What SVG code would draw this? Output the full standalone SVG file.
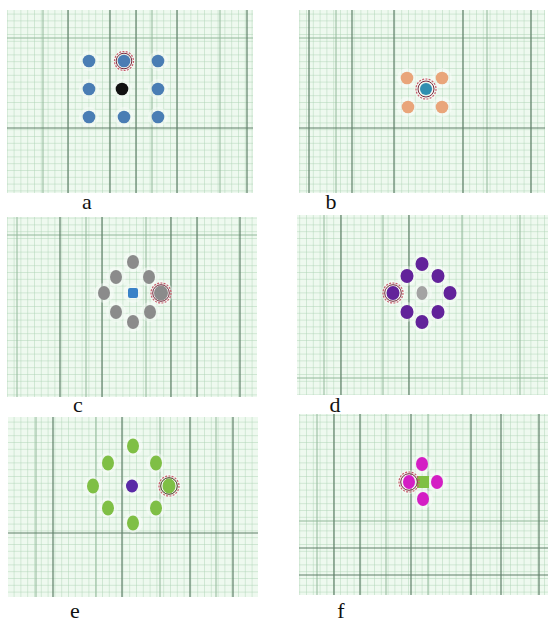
<svg xmlns="http://www.w3.org/2000/svg" width="548" height="623" viewBox="0 0 548 623">
<style>
.bg{fill:#eef9ef}
.dk{stroke:#5f7f68;stroke-width:1.2}
.md{stroke:#92b89a;stroke-width:1}
.lbl{font-family:"Liberation Serif","Times New Roman",serif;font-size:22px;fill:#111;text-anchor:middle}
.halo{fill:#ffffff;opacity:0.4}
.ring1{fill:none;stroke:#c85a6a;stroke-width:1.2;stroke-dasharray:2 1.3}
.ring2{fill:none;stroke:#7a2a40;stroke-width:1}
.blue{fill:#4a7db4}
.orange{fill:#e9a57a}
.gray{fill:#8b8b8b}
.purple{fill:#62229a}
.green{fill:#7fbf45}
.mag{fill:#d41ec4}
</style>
<defs>
<pattern id="g" width="6.8" height="6.8" patternUnits="userSpaceOnUse">
<rect width="6.8" height="6.8" fill="#eef9ef"/>
<path d="M0 0H6.8M0 0V6.8" stroke="#abd2b3" stroke-width="0.9" fill="none"/>
</pattern>
</defs>
<rect width="548" height="623" fill="#ffffff"/>

<g id="panel-a">
<rect x="7" y="10" width="246" height="183" fill="url(#g)"/>
<g class="md"><line x1="43" y1="10" x2="43" y2="193"/><line x1="152" y1="10" x2="152" y2="193"/><line x1="220" y1="10" x2="220" y2="193"/><line x1="7" y1="38" x2="253" y2="38"/></g>
<g class="dk"><line x1="68" y1="10" x2="68" y2="193"/><line x1="110" y1="10" x2="110" y2="193"/><line x1="136" y1="10" x2="136" y2="193"/><line x1="177" y1="10" x2="177" y2="193"/><line x1="247" y1="10" x2="247" y2="193"/><line x1="7" y1="128" x2="253" y2="128"/></g>
<g class="halo"><circle cx="89" cy="61" r="10"/><circle cx="124" cy="61" r="11"/><circle cx="158" cy="61" r="10"/><circle cx="89" cy="89" r="10"/><circle cx="122" cy="89" r="10"/><circle cx="158" cy="89" r="10"/><circle cx="89" cy="117" r="10"/><circle cx="124" cy="117" r="10"/><circle cx="158" cy="117" r="10"/></g>
<circle class="blue" cx="89" cy="61" r="6.3"/><circle class="blue" cx="124" cy="61" r="6.3"/><circle class="blue" cx="158" cy="61" r="6.3"/>
<circle class="blue" cx="89" cy="89" r="6.3"/><circle fill="#111" cx="122" cy="89" r="6.3"/><circle class="blue" cx="158" cy="89" r="6.3"/>
<circle class="blue" cx="89" cy="117" r="6.3"/><circle class="blue" cx="124" cy="117" r="6.3"/><circle class="blue" cx="158" cy="117" r="6.3"/>
<circle class="ring1" cx="124" cy="61" r="9.5"/><circle class="ring2" cx="124" cy="61" r="7.8"/>
<text class="lbl" x="87" y="209">a</text>
</g>

<g id="panel-b">
<rect x="299" y="10" width="246" height="183" fill="url(#g)"/>
<g class="md"><line x1="336" y1="10" x2="336" y2="193"/><line x1="487" y1="10" x2="487" y2="193"/><line x1="299" y1="38" x2="545" y2="38"/></g>
<g class="dk"><line x1="309" y1="10" x2="309" y2="193"/><line x1="352" y1="10" x2="352" y2="193"/><line x1="394" y1="10" x2="394" y2="193"/><line x1="463" y1="10" x2="463" y2="193"/><line x1="531" y1="10" x2="531" y2="193"/><line x1="299" y1="128" x2="545" y2="128"/></g>
<g class="halo"><circle cx="407" cy="78" r="10"/><circle cx="442" cy="78" r="10"/><circle cx="407" cy="107" r="10"/><circle cx="442" cy="107" r="10"/><circle cx="426" cy="89" r="12"/></g>
<circle class="orange" cx="407" cy="78" r="6.3"/><circle class="orange" cx="442" cy="78" r="6.3"/><circle class="orange" cx="408" cy="107" r="6.3"/><circle class="orange" cx="442" cy="107" r="6.3"/>
<circle fill="#2f8fb0" cx="426" cy="89" r="6"/>
<circle class="ring1" cx="426" cy="89" r="10"/><circle class="ring2" cx="426" cy="89" r="8"/>
<text class="lbl" x="331" y="209">b</text>
</g>

<g id="panel-c">
<rect x="7" y="217" width="250" height="180" fill="url(#g)"/>
<g class="md"><line x1="17" y1="217" x2="17" y2="397"/><line x1="86" y1="217" x2="86" y2="397"/><line x1="146" y1="217" x2="146" y2="397"/><line x1="7" y1="235" x2="257" y2="235"/></g>
<g class="dk"><line x1="60" y1="217" x2="60" y2="397"/><line x1="102" y1="217" x2="102" y2="397"/><line x1="171" y1="217" x2="171" y2="397"/><line x1="197" y1="217" x2="197" y2="397"/><line x1="240" y1="217" x2="240" y2="397"/></g>
<g class="halo"><circle cx="133" cy="262" r="10"/><circle cx="116" cy="277" r="10"/><circle cx="149" cy="277" r="10"/><circle cx="104" cy="293" r="10"/><circle cx="133" cy="293" r="10"/><circle cx="161" cy="293" r="12"/><circle cx="116" cy="312" r="10"/><circle cx="150" cy="312" r="10"/><circle cx="133" cy="322" r="10"/></g>
<ellipse class="gray" cx="133" cy="262" rx="6" ry="7"/><ellipse class="gray" cx="116" cy="277" rx="6" ry="7"/><ellipse class="gray" cx="149" cy="277" rx="6" ry="7"/>
<ellipse class="gray" cx="104" cy="293" rx="6" ry="7"/><ellipse class="gray" cx="161" cy="293" rx="7" ry="7.5"/>
<ellipse class="gray" cx="116" cy="312" rx="6" ry="7"/><ellipse class="gray" cx="150" cy="312" rx="6" ry="7"/><ellipse class="gray" cx="133" cy="322" rx="6" ry="7"/>
<rect fill="#3a82c8" x="128" y="288" width="10" height="10" rx="2"/>
<circle class="ring1" cx="161" cy="293" r="10"/><circle class="ring2" cx="161" cy="293" r="8.3"/>
<text class="lbl" x="78" y="412">c</text>
</g>

<g id="panel-d">
<rect x="297" y="215" width="251" height="180" fill="url(#g)"/>
<g class="md"><line x1="324" y1="215" x2="324" y2="395"/><line x1="383" y1="215" x2="383" y2="395"/><line x1="462" y1="215" x2="462" y2="395"/><line x1="520" y1="215" x2="520" y2="395"/><line x1="297" y1="378" x2="548" y2="378"/></g>
<g class="dk"><line x1="341" y1="215" x2="341" y2="395"/><line x1="409" y1="215" x2="409" y2="395"/></g>
<g class="halo"><circle cx="422" cy="264" r="10"/><circle cx="407" cy="276" r="10"/><circle cx="438" cy="276" r="10"/><circle cx="393" cy="293" r="12"/><circle cx="450" cy="293" r="10"/><circle cx="422" cy="293" r="10"/><circle cx="407" cy="312" r="10"/><circle cx="438" cy="312" r="10"/><circle cx="422" cy="322" r="10"/></g>
<ellipse class="purple" cx="422" cy="264" rx="6.5" ry="7"/><ellipse class="purple" cx="407" cy="276" rx="6.5" ry="7"/><ellipse class="purple" cx="438" cy="276" rx="6.5" ry="7"/>
<ellipse class="purple" cx="393" cy="293" rx="6.5" ry="7"/><ellipse class="purple" cx="450" cy="293" rx="6.5" ry="7"/>
<ellipse class="purple" cx="407" cy="312" rx="6.5" ry="7"/><ellipse class="purple" cx="438" cy="312" rx="6.5" ry="7"/><ellipse class="purple" cx="422" cy="322" rx="6.5" ry="7"/>
<ellipse fill="#a3a3a3" cx="422" cy="293" rx="5.5" ry="7"/>
<circle class="ring1" cx="393" cy="293" r="10"/><circle class="ring2" cx="393" cy="293" r="8.3"/>
<text class="lbl" x="335" y="412">d</text>
</g>

<g id="panel-e">
<rect x="8" y="417" width="250" height="180" fill="url(#g)"/>
<g class="md"><line x1="36" y1="417" x2="36" y2="597"/><line x1="96" y1="417" x2="96" y2="597"/><line x1="160" y1="417" x2="160" y2="597"/><line x1="216" y1="417" x2="216" y2="597"/></g>
<g class="dk"><line x1="53" y1="417" x2="53" y2="597"/><line x1="122" y1="417" x2="122" y2="597"/><line x1="190" y1="417" x2="190" y2="597"/><line x1="233" y1="417" x2="233" y2="597"/><line x1="8" y1="533" x2="258" y2="533"/></g>
<g class="halo"><circle cx="133" cy="446" r="10"/><circle cx="108" cy="463" r="10"/><circle cx="156" cy="463" r="10"/><circle cx="93" cy="486" r="10"/><circle cx="132" cy="486" r="10"/><circle cx="169" cy="486" r="12"/><circle cx="108" cy="508" r="10"/><circle cx="156" cy="508" r="10"/><circle cx="133" cy="523" r="10"/></g>
<ellipse class="green" cx="133" cy="446" rx="6" ry="7.5"/><ellipse class="green" cx="108" cy="463" rx="6" ry="7.5"/><ellipse class="green" cx="156" cy="463" rx="6" ry="7.5"/>
<ellipse class="green" cx="93" cy="486" rx="6" ry="7.5"/><ellipse class="green" cx="169" cy="486" rx="6.5" ry="7.5"/>
<ellipse class="green" cx="108" cy="508" rx="6" ry="7.5"/><ellipse class="green" cx="156" cy="508" rx="6" ry="7.5"/><ellipse class="green" cx="133" cy="523" rx="6" ry="7.5"/>
<ellipse fill="#5a2aa6" cx="132" cy="486" rx="6" ry="6.5"/>
<circle class="ring1" cx="169" cy="486" r="10"/><circle fill="none" stroke="#4a3a20" stroke-width="1" cx="169" cy="486" r="8.3"/>
<text class="lbl" x="75" y="618">e</text>
</g>

<g id="panel-f">
<rect x="299" y="414" width="249" height="181" fill="url(#g)"/>
<g class="md"><line x1="317" y1="414" x2="317" y2="595"/><line x1="386" y1="414" x2="386" y2="595"/><line x1="428" y1="414" x2="428" y2="595"/><line x1="299" y1="521" x2="548" y2="521"/></g>
<g class="dk"><line x1="334" y1="414" x2="334" y2="595"/><line x1="360" y1="414" x2="360" y2="595"/><line x1="411" y1="414" x2="411" y2="595"/><line x1="471" y1="414" x2="471" y2="595"/><line x1="501" y1="414" x2="501" y2="595"/><line x1="539" y1="414" x2="539" y2="595"/><line x1="299" y1="548" x2="548" y2="548"/><line x1="299" y1="575" x2="548" y2="575"/></g>
<g class="halo"><circle cx="422" cy="464" r="10"/><circle cx="409" cy="482" r="12"/><circle cx="437" cy="482" r="10"/><circle cx="423" cy="499" r="10"/></g>
<rect fill="#7fc043" x="417" y="476" width="12" height="12"/>
<ellipse class="mag" cx="422" cy="464" rx="6" ry="7"/><ellipse class="mag" cx="409" cy="482" rx="6" ry="7"/><ellipse class="mag" cx="437" cy="482" rx="6" ry="7"/><ellipse class="mag" cx="423" cy="499" rx="6" ry="7"/>
<circle class="ring1" cx="409" cy="482" r="10"/><circle class="ring2" cx="409" cy="482" r="8.3"/>
<text class="lbl" x="341" y="618">f</text>
</g>
</svg>
